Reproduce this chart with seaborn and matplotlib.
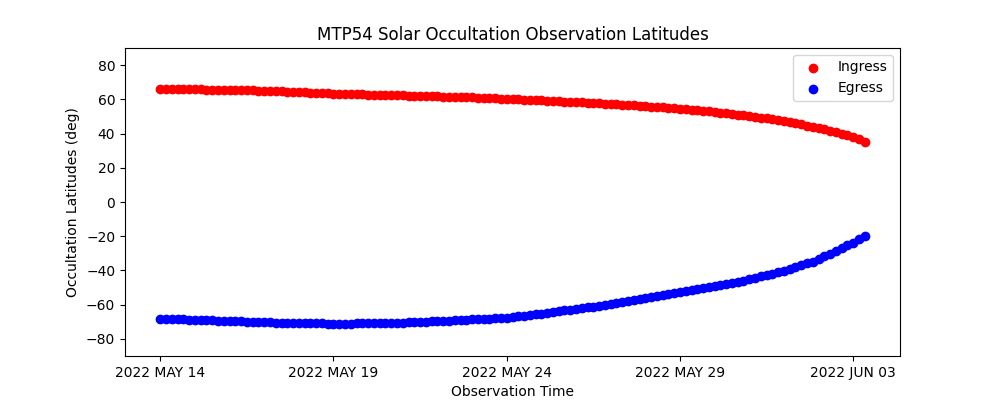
import pandas as pd
import matplotlib
matplotlib.use("Agg")
import matplotlib.pyplot as plt
import seaborn as sns

# 관측 시각: 2022-05-14 00:00 부터 4시간 간격
start_time = "2022-05-14 00:00"
step = "4h"

ingress_lat = [
    66.0, 66.0, 65.9, 65.9, 65.9, 65.8,
    65.8, 65.8, 65.7, 65.7, 65.6, 65.6,
    65.5, 65.4, 65.3, 65.3, 65.2, 65.1,
    65.0, 64.9, 64.7, 64.6, 64.5, 64.3,
    64.2, 64.1, 63.9, 63.8, 63.7, 63.5,
    63.4, 63.3, 63.2, 63.1, 63.0, 62.9,
    62.8, 62.7, 62.6, 62.6, 62.5, 62.4,
    62.3, 62.2, 62.1, 62.0, 61.9, 61.8,
    61.7, 61.6, 61.5, 61.4, 61.3, 61.2,
    61.1, 61.0, 60.8, 60.7, 60.6, 60.4,
    60.3, 60.2, 60.0, 59.9, 59.7, 59.6,
    59.4, 59.2, 59.1, 58.9, 58.7, 58.6,
    58.4, 58.2, 58.0, 57.9, 57.7, 57.5,
    57.3, 57.1, 56.9, 56.7, 56.4, 56.2,
    56.0, 55.8, 55.5, 55.3, 55.0, 54.8,
    54.5, 54.2, 53.9, 53.6, 53.3, 53.0,
    52.7, 52.3, 51.9, 51.5, 51.1, 50.7,
    50.3, 49.8, 49.3, 48.8, 48.3, 47.8,
    47.3, 46.6, 45.9, 45.3, 44.6, 43.9,
    43.2, 42.4, 41.5, 40.7, 39.9, 39.0,
    38.2, 36.7, 35.0,
]

egress_lat = [
    -68.3, -68.4, -68.5, -68.6, -68.6, -68.7,
    -68.8, -68.9, -69.0, -69.2, -69.3, -69.4,
    -69.5, -69.6, -69.8, -69.9, -70.0, -70.2,
    -70.3, -70.4, -70.5, -70.6, -70.7, -70.8,
    -70.9, -70.9, -71.0, -71.0, -71.0, -71.1,
    -71.1, -71.1, -71.1, -71.1, -71.0, -71.0,
    -71.0, -70.9, -70.8, -70.8, -70.7, -70.6,
    -70.5, -70.4, -70.2, -70.1, -69.9, -69.8,
    -69.6, -69.4, -69.3, -69.1, -68.9, -68.8,
    -68.6, -68.4, -68.2, -68.1, -67.9, -67.7,
    -67.5, -67.1, -66.8, -66.4, -66.0, -65.7,
    -65.3, -64.8, -64.4, -63.9, -63.4, -63.0,
    -62.5, -62.0, -61.5, -61.1, -60.6, -60.1,
    -59.6, -59.0, -58.5, -57.9, -57.3, -56.8,
    -56.2, -55.6, -55.1, -54.5, -53.9, -53.4,
    -52.8, -52.2, -51.6, -51.1, -50.5, -49.9,
    -49.3, -48.6, -47.9, -47.3, -46.6, -45.9,
    -45.2, -44.4, -43.5, -42.7, -41.9, -41.0,
    -40.2, -39.1, -38.0, -37.0, -35.9, -34.8,
    -33.3, -31.7, -30.1, -28.5, -26.9, -25.3,
    -23.7, -21.9, -20.0,
]

tick_dates = ["2022-05-14", "2022-05-19", "2022-05-24", "2022-05-29", "2022-06-03"]
tick_labels = ["2022 MAY 14", "2022 MAY 19", "2022 MAY 24", "2022 MAY 29", "2022 JUN 03"]
y_ticks = [-80, -60, -40, -20, 0, 20, 40, 60, 80]

obs_time = pd.date_range(start_time, periods=len(ingress_lat), freq=step)
df = pd.DataFrame({"time": obs_time, "ingress": ingress_lat, "egress": egress_lat})

fig, ax = plt.subplots(figsize=(10, 4), dpi=100)

sns.scatterplot(data=df, x="time", y="ingress", color="red", label="Ingress",
                s=36, edgecolor="red", linewidth=1.0, ax=ax)
sns.scatterplot(data=df, x="time", y="egress", color="blue", label="Egress",
                s=36, edgecolor="blue", linewidth=1.0, ax=ax)

ax.set_ylim(-90, 90)
ax.set_yticks(y_ticks)
ax.set_xticks(pd.to_datetime(tick_dates))
ax.set_xticklabels(tick_labels)

ax.set_title("MTP54 Solar Occultation Observation Latitudes")
ax.set_xlabel("Observation Time")
ax.set_ylabel("Occultation Latitudes (deg)")
ax.legend(loc="upper right")

fig.savefig("out.png", dpi=100)
